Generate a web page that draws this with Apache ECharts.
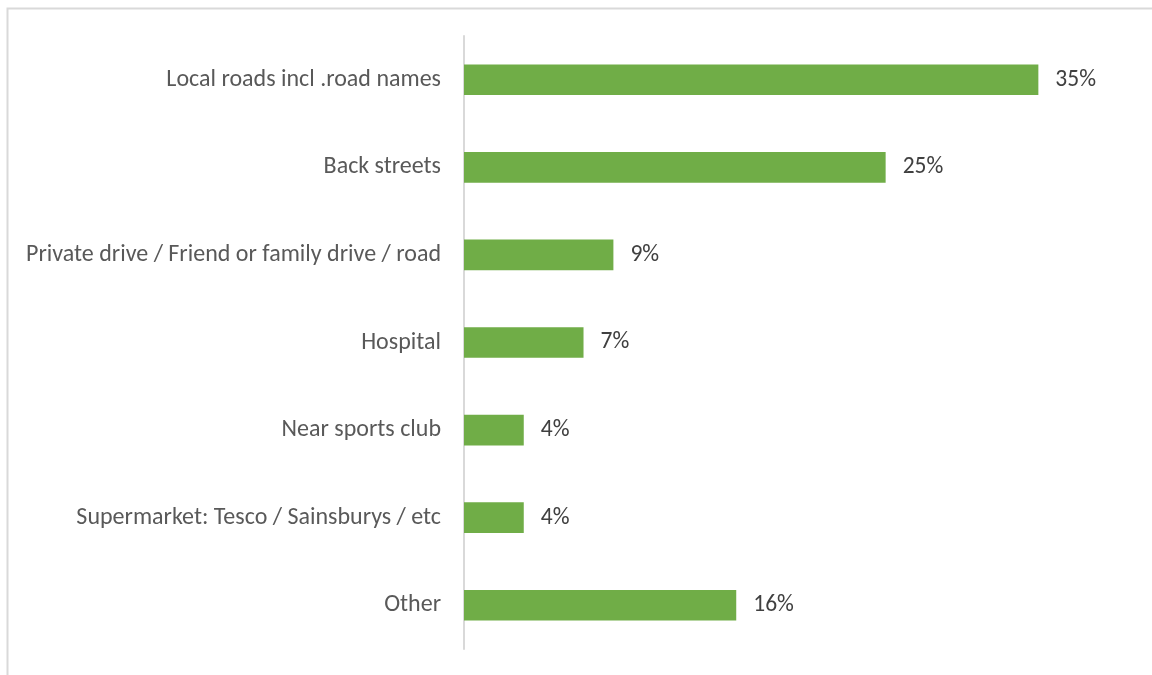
<!DOCTYPE html>
<html>
<head>
<meta charset="utf-8">
<style>html,body{margin:0;padding:0;background:#fff;}#c{width:1152px;height:675px;}</style>
<script src="https://cdn.jsdelivr.net/npm/echarts@6/dist/echarts.min.js"></script>
</head>
<body>
<div id="c"></div>
<script>
const categories = [
  'Local roads incl .road names',
  'Back streets',
  'Private drive / Friend or family drive / road',
  'Hospital',
  'Near sports club',
  'Supermarket: Tesco / Sainsburys / etc',
  'Other'
];
const values = [34.6, 25.4, 9.0, 7.2, 3.6, 3.6, 16.4];

const FONT = 'Carlito, "Open Sans", "Noto Sans", sans-serif';
const chart = echarts.init(document.getElementById('c'));
chart.setOption({
  animation: false,
  backgroundColor: '#ffffff',
  graphic: [{
    type: 'rect', left: 5, top: 6, z: 100,
    shape: { width: 1160, height: 690 },
    style: { fill: 'none', stroke: '#d9d9d9', lineWidth: 2 }
  }],
  grid: { left: 464, right: 24, top: 36, bottom: 26, containLabel: false },
  xAxis: {
    type: 'value', min: 0, max: 40, interval: 5,
    axisLine: { show: false }, axisTick: { show: false },
    axisLabel: { show: false }, splitLine: { show: false }
  },
  yAxis: {
    type: 'category', data: categories, inverse: true,
    axisLine: { show: true, lineStyle: { color: '#d9d9d9', width: 2 } },
    axisTick: { show: false },
    axisLabel: { color: '#595959', fontFamily: FONT, fontSize: 24, margin: 23, padding: [8, 0, 0, 0] }
  },
  series: [{
    type: 'bar', data: values, barWidth: '35%',
    itemStyle: { color: '#70ad47' },
    label: {
      show: true, position: 'right', distance: 17,
      color: '#404040', fontFamily: FONT, fontSize: 23.5, padding: [8, 0, 0, 0],
      formatter: p => Math.round(p.value) + '%'
    }
  }]
});
</script>
</body>
</html>
